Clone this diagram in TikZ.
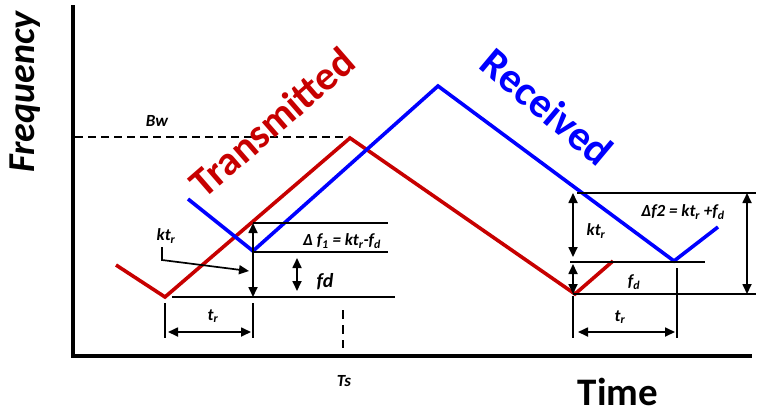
\documentclass[tikz,border=0pt]{standalone}
\usepackage{fontspec}
\setmainfont{Carlito}
\usetikzlibrary{arrows.meta}
\begin{document}
\begin{tikzpicture}[x=1pt, y=-1pt, >={Triangle[length=10pt,width=9pt]},
  every node/.style={font=\bfseries\itshape\fontsize{17}{19}\selectfont},
  tx/.style={line width=3.6pt, color=red!78!black},
  rx/.style={line width=3.6pt, color=blue},
  refline/.style={line width=1.7pt},
  dim/.style={line width=1.7pt, <->},
  big/.style={font=\bfseries\fontsize{#1}{#1}\selectfont}]
  \useasboundingbox (0,0) rectangle (757,416);
  % axes
  \coordinate (ytop) at (73,5); \coordinate (org) at (73,356); \coordinate (xend) at (752,356);
  \draw[line width=4pt] (ytop) -- (org) -- (xend);
  \node[font=\bfseries\itshape\fontsize{38}{38}\selectfont, rotate=90] (freq) at (25,92) {Frequency};
  \node[big=39, inner sep=0pt] (time) at (618,392) {Time};
  \node (ts) at (344,381) {Ts};
  % bandwidth
  \coordinate (bw0) at (75,137); \coordinate (bw1) at (348,137);
  \draw[refline, dashed, dash pattern=on 8pt off 5pt] (bw0) -- (bw1);
  \node (bw) at (157,121) {Bw};
  % transmitted and received chirps
  \coordinate (t0) at (116,265); \coordinate (t1) at (165,297); \coordinate (t2) at (350,138); \coordinate (t3) at (575,294); \coordinate (t4) at (613,261);
  \coordinate (r0) at (188,199); \coordinate (r1) at (253,251); \coordinate (r2) at (438,86); \coordinate (r3) at (674,261); \coordinate (r4) at (718,227);
  \draw[tx] (t0) -- (t1) -- (t2) -- (t3) -- (t4);
  \draw[rx] (r0) -- (r1) -- (r2) -- (r3) -- (r4);
  \node[big=41, red!78!black, rotate=41] (txlbl) at (272,122) {Transmitted};
  \node[big=42, blue, rotate=-40] (rxlbl) at (547,107) {Received};
  % up-chirp beat
  \coordinate (a1) at (253,223); \coordinate (a2) at (388,223); \coordinate (b1) at (253,252); \coordinate (b2) at (388,252); \coordinate (c1) at (172,297); \coordinate (c2) at (395,297); \coordinate (c3) at (253,297);
  \draw[refline] (a1) -- (a2); \draw[refline] (b1) -- (b2); \draw[refline] (c1) -- (c2);
  \draw[dim] (a1) -- (c3);
  \coordinate (fd0) at (297,258); \coordinate (fd1) at (297,291);
  \draw[dim] (fd0) -- (fd1);
  \node (df1) at (342,241) {Δ f\textsubscript{1} = kt\textsubscript{r}-f\textsubscript{d}};
  \node[font=\bfseries\itshape\fontsize{20}{22}\selectfont] (fdl) at (325,282) {fd};
  \node (ktl) at (166,236) {kt\textsubscript{r}};
  \coordinate (k0) at (162,247); \coordinate (k1) at (162,260); \coordinate (k2) at (249,271);
  \draw[refline, ->] (k0) -- (k1) -- (k2);
  \coordinate (m0) at (165,303); \coordinate (m1) at (165,338); \coordinate (n0) at (253,303); \coordinate (n1) at (253,338);
  \draw[refline] (m0) -- (m1); \draw[refline] (n0) -- (n1);
  \coordinate (p0) at (168,332); \coordinate (p1) at (251,332);
  \draw[dim] (p0) -- (p1);
  \node (trl) at (213,316) {t\textsubscript{r}};
  \coordinate (s0) at (343,310); \coordinate (s1) at (343,348);
  \draw[refline, dashed, dash pattern=on 9pt off 6pt] (s0) -- (s1);
  % down-chirp beat
  \coordinate (d1) at (577,193); \coordinate (d2) at (756,193); \coordinate (e1) at (570,262); \coordinate (e2) at (705,262); \coordinate (f1) at (573,294); \coordinate (f2) at (756,294);
  \draw[refline] (d1) -- (d2); \draw[refline] (e1) -- (e2); \draw[refline] (f1) -- (f2);
  \coordinate (g0) at (573,193); \coordinate (g1) at (573,257); \coordinate (h0) at (573,264); \coordinate (h1) at (573,294);
  \draw[dim] (g0) -- (g1); \draw[dim] (h0) -- (h1);
  \coordinate (w0) at (747,193); \coordinate (w1) at (747,294);
  \draw[dim] (w0) -- (w1);
  \node (df2) at (683,212) {Δf2 = kt\textsubscript{r} +f\textsubscript{d}};
  \node (kt2) at (596,231) {kt\textsubscript{r}};
  \node (fd2) at (634,282) {f\textsubscript{d}};
  \coordinate (u0) at (573,296); \coordinate (u1) at (573,338); \coordinate (v0) at (677,268); \coordinate (v1) at (677,338);
  \draw[refline] (u0) -- (u1); \draw[refline] (v0) -- (v1);
  \coordinate (q0) at (578,332); \coordinate (q1) at (675,332);
  \draw[dim] (q0) -- (q1);
  \node (tr2) at (620,317) {t\textsubscript{r}};
\end{tikzpicture}
\end{document}
